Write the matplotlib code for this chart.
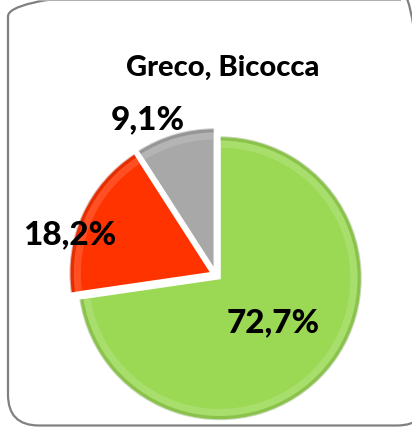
import numpy as np
import matplotlib.pyplot as plt
from matplotlib.patches import FancyBboxPatch, Wedge
import matplotlib.colors as mcolors

# chart data
title = "Greco, Bicocca"
labels = ["72,7%", "18,2%", "9,1%"]
values = [72.7, 18.2, 9.1]
colors = ["#9BD955", "#FF3300", "#A8A8A8"]
# label offsets from pie centre, in radius units (Excel "best fit" places)
label_xy = [(0.40, -0.33), (-1.03, 0.29), (-0.48, 1.10)]

W, H = 412, 431
fig = plt.figure(figsize=(W / 100, H / 100), dpi=100)
fig.patch.set_facecolor("white")

# outer rounded frame + line of the box above
frame = FancyBboxPatch((8 / W, 4.5 / H), 420 / W, 440 / H,
                       boxstyle="round,pad=0,rounding_size=0.075",
                       transform=fig.transFigure, fill=False,
                       edgecolor="#808080", linewidth=1.6, mutation_aspect=W / H)
fig.patches.append(frame)
fig.add_artist(plt.Line2D([40 / W, 400 / W], [1 - 1.2 / H, 1 - 1.2 / H],
                          transform=fig.transFigure, color="#B0B0B0", lw=1.5))

fig.text(223 / W, 1 - 68 / H, title, ha="center", va="center",
         fontsize=21, fontweight="black", family="Lato")

# pie axes, centre (216, 276) px, radius 142 px
R = 142
cx, cy = 216, H - 276
s = 1.25
ax = fig.add_axes([(cx - s * R) / W, (cy - s * R) / H, 2 * s * R / W, 2 * s * R / H])
wedges, _ = ax.pie(values, colors=colors, startangle=90, counterclock=False,
                   explode=[0.035, 0.035, 0.035], radius=1,
                   wedgeprops=dict(edgecolor="white", linewidth=1.5))

# bevel look: soft darker rim and light inner band
for w, c in zip(wedges, colors):
    rgb = mcolors.to_rgb(c)
    dark = [v * 0.7 for v in rgb]
    light = [min(1, v + (1 - v) * 0.4) for v in rgb]
    ax.add_patch(Wedge(w.center, w.r, w.theta1 + 0.3, w.theta2 - 0.3, width=0.03,
                       facecolor=dark, edgecolor="none", alpha=0.35))
    ax.add_patch(Wedge(w.center, w.r - 0.03, w.theta1 + 0.6, w.theta2 - 0.6, width=0.05,
                       facecolor=light, edgecolor="none", alpha=0.35))

# labels
for lab, (dx, dy) in zip(labels, label_xy):
    ax.text(dx, dy, lab, ha="center", va="center", fontsize=24,
            fontweight="black", family="Lato", color="black")

ax.set_xlim(-s, s)
ax.set_ylim(-s, s)
ax.set_aspect("equal")
ax.axis("off")

fig.savefig("out.png", dpi=100)
